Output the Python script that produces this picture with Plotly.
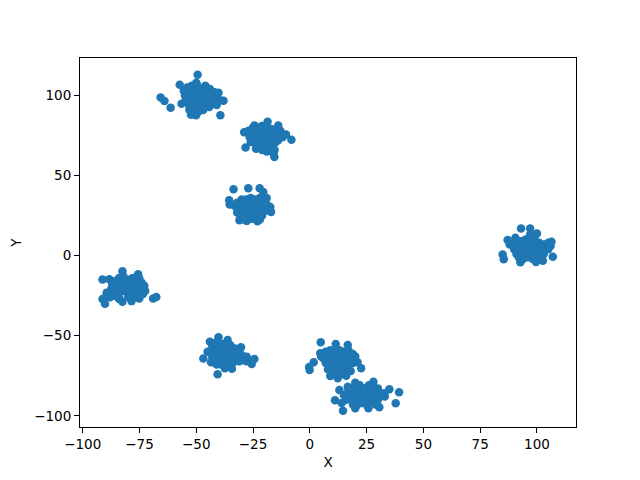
import plotly.graph_objects as go

a_x = [-49.4,-57.3,-65.7,-64,-61.3,-39.4,-50.1,-52.3,-56.5,-38,-40.2,-44.3,-54,-52,-50,-48,-46,-44,-42,-55,-53,-51,-49,-47,-45,-43,-41,-54,-52,-50,-48,-46,-44,-42,-50,-53,-47,-49,-45,-51,-55.5,-53.5,-51.5,-49.5,-47.5,-45.5,-43.5,-41.5,-54.5,-52.5,-50.5,-48.5,-46.5,-44.5,-51,-49,-47,-53,-41,-39.5]
a_y = [113,106.7,98.8,96.5,92.4,87.6,87.6,88,94.9,96.7,101.7,92.8,105,106,108,104,106,104,102,100,102,99,101,98,100,97,99,96,97,95,96,94,97,95,92,91,93,103,103,96,103,104,105,106,102,102,100,96,98,99,101,99,96,96,93,90,91,93,94,97]
b_x = [-28.9,-28.3,-8.1,-15.6,-18.6,-13.9,-23.7,-24.4,-10.5,-27,-25,-23,-21,-19,-17,-15,-13,-12,-26,-24,-22,-20,-18,-16,-14,-25,-23,-21,-19,-17,-15,-22,-20,-18,-16,-21,-19,-16,-15.5,-26.5,-24,-20,-17,-13,-26,-22,-18,-14]
b_y = [77,67.5,72.4,61.6,83.6,81.2,66.8,81.2,75.7,78,80,80,81,80,79,77,78,74,75,76,77,76,76,75,74,72,73,72,73,71,71,69,69,68,67,66,65,64,66,74,70,78,73,76,71,79,70,72]
c_x = [-33.6,-27.1,-22.1,-20.5,-35.5,-35.3,-17.4,-17.1,-31,-27.8,-23.1,-32,-30,-28,-26,-24,-22,-20,-31,-29,-27,-25,-23,-21,-19,-30,-28,-26,-24,-22,-20,-18,-29,-27,-25,-23,-21,-30.5,-26,-24.5,-33,-31,-28,-24,-20,-19,-30,-27,-22,-32,-29]
c_y = [41.5,42.1,42.1,39.8,34.6,32,30.4,27.3,22.1,21.7,21.5,33,35,35,36,35,36,34,30,31,32,31,32,31,32,27,28,27,28,27,28,28,24,25,24,25,25,25,23,23,31,29,33,33,30,36,33,29,22.5,27,22.5]
d_x = [-91.3,-88.3,-82.5,-75.6,-75.1,-72.9,-72.5,-67.6,-69,-91.3,-90.2,-82.5,-78.5,-89.5,-75.1,-86,-84,-82,-80,-78,-76,-74,-87,-85,-83,-81,-79,-77,-75,-73,-86,-84,-82,-80,-78,-76,-74,-88,-84,-80,-85,-81,-77,-85.5,-83.5,-81.5,-79.5,-77.5,-75.5,-83,-81,-79,-77,-87,-86,-79.5,-76.5,-73.5,-89,-88,-86.5,-84,-87.5]
d_y = [-14.9,-14.7,-9.7,-11.7,-14.2,-18.8,-22.1,-25.9,-26.7,-27.1,-30,-28.8,-28.4,-23.2,-26.7,-16,-14,-13,-15,-14,-16,-17,-20,-19,-18,-19,-18,-19,-20,-21,-24,-23,-22,-23,-22,-23,-24,-25,-26,-25,-22,-20,-24,-17,-16,-17,-17,-16,-18,-21,-21.5,-20.5,-21,-18,-25,-26,-26,-24,-25,-26,-23,-27,-21]
e_x = [-40.2,-44,-36.2,-30.3,-46.9,-40.6,-34.3,-43.5,-37.4,-24.4,-25.6,-27.8,-43,-41,-39,-37,-35,-33,-44,-42,-40,-38,-36,-34,-32,-30,-43,-41,-39,-37,-35,-33,-31,-29,-42,-40,-38,-36,-34,-39,-37,-35,-45,-41,-31,-26,-28,-38,-35,-33,-41,-43]
e_y = [-51,-53.7,-52.7,-57.2,-64.3,-74.1,-70.6,-66.6,-70.3,-64.5,-67.6,-63.1,-56,-54,-55,-55,-56,-58,-60,-59,-58,-59,-58,-60,-61,-62,-63,-62,-62,-63,-62,-63,-64,-65,-66,-65,-66,-65,-67,-68,-68,-68,-60,-68,-66,-66,-66,-61,-59,-66,-65,-59]
f_x = [4.8,11.4,16.7,4.6,18.9,1.7,-0.1,21,22.6,12.3,9,7,9,11,13,15,17,6,8,10,12,14,16,18,7,9,11,13,15,17,19,8,10,12,14,16,18,10,12,14,16,5,20,-0.3,12,15,8,10,17,13,6,19]
f_y = [-54.1,-55.2,-55.8,-61,-61.4,-66.6,-71.4,-66.6,-70.3,-76.6,-75.1,-60,-59,-60,-59,-60,-59,-64,-63,-64,-63,-65,-64,-65,-67,-68,-67,-68,-67,-68,-67,-71,-71,-72,-71,-72,-72,-74,-74,-74,-75,-63,-63,-69.5,-61.5,-62.5,-66,-69,-69.5,-70,-62,-62]
g_x = [13,11.1,14.6,20,28,35,32.8,39.3,37.8,30.6,25.8,20,16.7,18,20,22,24,26,28,30,15,17,19,21,23,25,27,29,31,16,18,20,22,24,26,28,30,19,21,23,25,27,29,14,33,17,21,25,29,23]
g_y = [-83.9,-90.3,-96.8,-79.3,-78.7,-83.4,-85.9,-85.3,-92.1,-94.6,-95.3,-95.3,-81.8,-83,-82,-81,-83,-81,-82,-83,-87,-86,-85,-86,-85,-86,-85,-86,-87,-90,-89,-90,-89,-90,-89,-90,-90,-93,-93,-92,-93,-92,-93,-92,-88,-83.5,-88,-88,-88,-84]
h_x = [93,97,100,87.1,90.5,106.4,84.9,85.4,92.7,107,99.6,102.6,89,91,93,95,97,99,101,103,105,90,92,94,96,98,100,102,104,91,93,95,97,99,101,103,94,96,98,100,105,88,106,92,95,101,90,103,97]
h_y = [17,17,13.8,9.7,11.1,8.6,0.7,-2.2,-4.2,-0.7,-3.9,-3.2,7,8,9,10,9,10,8,7,8,4,5,6,5,6,5,6,4,1,2,1,2,1,2,1,-2,-1,-2,-1,4,7,6,-1,3,3,6,3,13]

xs = a_x + b_x + c_x + d_x + e_x + f_x + g_x + h_x
ys = a_y + b_y + c_y + d_y + e_y + f_y + g_y + h_y

x_ticks = [-100, -75, -50, -25, 0, 25, 50, 75, 100]
y_ticks = [-100, -50, 0, 50, 100]

fig = go.Figure(go.Scatter(x=xs, y=ys, mode="markers",
                           marker=dict(color="#1f77b4", size=8.5, line=dict(width=0))))

axis = dict(showgrid=False, zeroline=False, showline=True, linecolor="black", linewidth=1,
            mirror=True, ticks="outside", ticklen=5, tickwidth=1, tickcolor="black",
            tickfont=dict(family="DejaVu Sans", size=13.5, color="black"))
fig.update_xaxes(range=[-101.2, 117.2], tickvals=x_ticks,
                 title=dict(text="X", font=dict(family="DejaVu Sans", size=13.5, color="black"), standoff=6), **axis)
fig.update_yaxes(range=[-107, 123.4], tickvals=y_ticks, automargin=False,
                 title=dict(text="Y", font=dict(family="DejaVu Sans", size=13.5, color="black")), **axis)
fig.update_layout(width=624, height=472, autosize=False, paper_bgcolor="white", plot_bgcolor="white",
                  showlegend=False, margin=dict(l=72, r=56, t=50, b=53))
fig.write_html("out.html")
